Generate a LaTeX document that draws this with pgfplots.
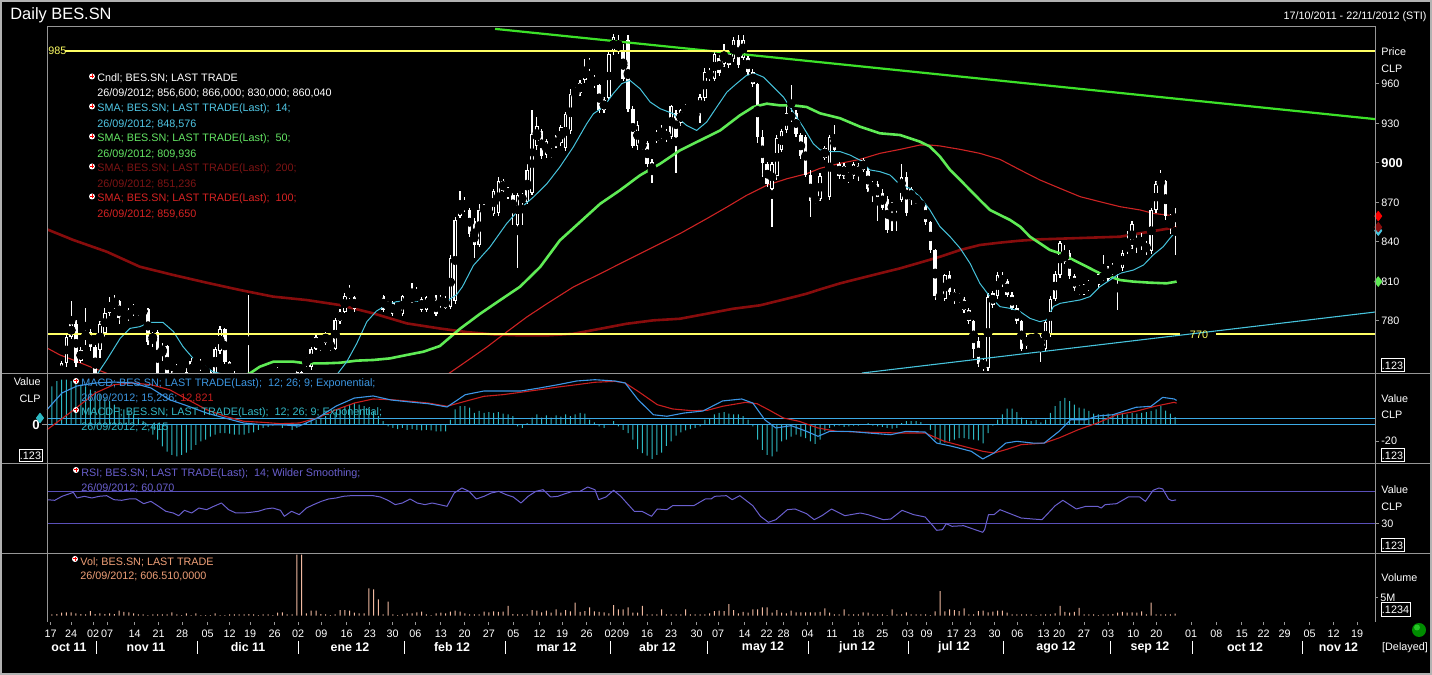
\documentclass[border=0pt]{standalone}
\usepackage{pgfplots}
\pgfplotsset{compat=1.18}
\usepackage{pgfplotstable}
\usepackage{fontspec}
\setmainfont{Liberation Sans}
\definecolor{fr}{RGB}{150,150,150}
\definecolor{cyL}{RGB}{70,195,220}
\definecolor{grL}{RGB}{95,235,85}
\definecolor{grT}{RGB}{60,225,40}
\definecolor{rdL}{RGB}{205,35,35}
\definecolor{drL}{RGB}{135,12,12}
\definecolor{yl}{RGB}{255,255,100}
\definecolor{mb}{RGB}{60,150,230}
\definecolor{ms}{RGB}{200,30,30}
\definecolor{hc}{RGB}{45,185,195}
\definecolor{zl}{RGB}{60,170,230}
\definecolor{rsi}{RGB}{105,95,205}
\definecolor{rsil}{RGB}{90,80,185}
\definecolor{vc}{RGB}{240,185,160}
\definecolor{cyT}{RGB}{80,200,230}
\definecolor{grX}{RGB}{100,230,100}
\definecolor{drT}{RGB}{125,20,20}
\definecolor{rdT}{RGB}{215,35,35}
\definecolor{mT}{RGB}{60,150,225}
\definecolor{mfT}{RGB}{50,185,200}
\definecolor{vT}{RGB}{240,160,120}
\newcommand{\sm}{\fontsize{5.4}{6.2}\selectfont}
\newcommand{\mon}{\fontsize{6.2}{7}\selectfont\bfseries}

\pgfplotstableread{
i o h l c
0 735 738 725 730
1 730 740 722 736
2 738 750 732 748
3 748 771 745 768
4 768 795 766 778
5 778 781 745 748
6 750 760 748 758
7 766 790 762 772
8 772 774 757 760
9 760 762 732 738
10 758 780 752 778
11 771 790 768 786
12 786 798 784 794
13 791 800 789 795
14 795 796 778 782
15 782 784 778 781
16 782 790 780 788
17 786 793 784 791
18 790 791 784 786
19 786 790 785 789
20 789 790 762 764
21 764 772 760 771
22 772 773 730 738
23 755 763 750 761
24 761 762 730 738
25 738 742 728 735
26 741 747 735 745
27 745 746 735 741
28 741 744 732 738
29 738 752 735 750
30 750 751 746 749
31 749 751 742 744
32 744 746 736 741
33 741 743 733 738
34 740 760 736 759
35 757 776 755 774
36 774 775 747 749
37 749 750 735 740
38 740 742 732 737
39 737 740 730 735
40 735 738 728 733
41 736 800 730 738
42 733 736 726 730
43 730 734 724 728
44 728 733 722 731
45 731 735 725 729
46 729 736 726 734
47 738 745 733 744
48 744 745 736 740
49 740 744 736 743
50 743 744 737 741
51 741 742 735 739
52 739 742 735 741
53 747 753 745 751
54 745 760 743 759
55 759 770 758 768
56 764 765 757 759
57 763 772 762 771
58 764 765 757 759
59 759 782 758 781
60 780 789 778 787
61 787 801 786 799
62 799 807 797 803
63 798 799 787 789
64 799 802 797 801
65 799 803 798 802
66 800 806 799 801
67 801 802 798 799
68 799 800 797 798
69 799 800 787 788
70 789 795 788 794
71 794 795 784 785
72 785 789 784 788
73 785 800 784 799
74 797 798 793 794
75 795 809 794 800
76 800 806 796 797
77 797 798 787 788
78 788 799 787 798
79 798 800 794 795
80 795 800 784 785
81 792 800 790 798
82 797 799 789 790
83 791 830 789 828
84 795 859 793 857
85 860 879 858 869
86 870 874 863 865
87 864 866 844 846
88 856 858 828 838
89 838 869 836 864
90 864 869 861 865
91 863 864 860 861
92 861 880 860 879
93 862 889 860 886
94 879 888 878 886
95 880 882 873 875
96 876 877 853 862
97 853 877 820 876
98 876 877 853 870
99 870 899 869 895
100 877 940 876 922
101 913 935 910 928
102 924 926 903 905
103 906 918 904 917
104 909 911 904 906
105 913 921 911 919
106 915 929 913 927
107 911 939 909 937
108 924 956 922 952
109 952 958 950 953
110 953 963 951 961
111 963 979 961 972
112 972 980 970 978
113 965 967 957 959
114 959 960 938 940
115 940 950 938 948
116 949 985 947 983
117 984 998 982 996
118 992 997 983 985
119 984 990 962 964
120 993 997 939 941
121 941 943 911 913
122 913 932 910 929
123 915 917 910 912
124 915 917 897 899
125 901 903 885 892
126 917 925 915 923
127 920 929 918 924
128 924 926 916 918
129 920 944 918 943
130 938 940 892 920
131 930 941 928 940
132 939 945 937 942
133 938 940 934 936
134 936 939 934 938
135 939 952 930 950
136 949 972 947 969
137 970 972 962 964
138 964 984 962 983
139 980 982 966 968
140 975 990 973 985
141 984 986 972 974
142 979 996 977 993
143 993 997 972 974
144 980 997 978 993
145 980 983 967 969
146 969 971 958 960
147 960 961 915 920
148 920 925 889 900
149 899 901 882 884
150 880 901 851 899
151 890 921 887 919
152 910 926 908 924
153 925 945 923 938
154 938 959 931 933
155 938 940 920 922
156 921 923 903 905
157 920 921 889 891
158 891 895 859 871
159 871 876 869 874
160 873 892 871 890
161 904 913 902 911
162 874 921 872 920
163 920 929 908 910
164 899 901 888 890
165 890 900 888 898
166 890 893 885 889
167 890 901 888 899
168 898 900 886 890
169 895 904 893 902
170 894 896 878 880
171 880 886 870 884
172 884 886 856 873
173 877 880 864 866
174 873 875 847 849
175 865 870 848 868
176 868 870 848 866
177 872 899 870 889
178 889 893 860 862
179 872 882 868 880
180 874 876 869 871
181 870 872 865 867
182 867 868 853 855
183 855 856 832 834
184 834 835 796 799
185 799 801 796 798
186 797 816 795 815
187 815 818 800 802
188 802 804 793 795
189 796 801 794 799
190 796 798 786 788
191 788 790 778 780
192 780 781 752 759
193 765 768 745 747
194 750 752 742 744
195 744 801 742 798
196 801 803 790 792
197 799 817 797 815
198 814 817 806 808
199 810 812 798 800
200 800 802 788 790
201 790 792 778 780
202 780 781 757 759
203 761 770 759 768
204 768 769 764 766
205 766 770 765 769
206 769 771 749 759
207 759 781 757 779
208 770 799 768 797
209 797 818 795 816
210 815 841 813 839
211 832 838 823 825
212 832 834 812 814
213 814 816 803 805
214 805 807 800 802
215 802 808 800 806
216 805 811 803 809
217 809 812 805 807
218 807 818 805 816
219 816 830 810 812
220 812 822 810 820
221 820 824 815 818
222 818 822 788 820
223 820 834 818 832
224 833 848 831 839
225 837 856 835 854
226 841 846 832 839
227 839 847 834 841
228 839 841 830 833
229 833 866 831 864
230 864 886 862 884
231 884 895 883 886
232 886 887 857 860
233 860 861 846 854
234 856.6 866 830 860.04
}\candles

\pgfplotstableread{
i v
0 12
1 13.6
2 14.1
3 14.1
4 13.6
5 13.1
6 12.5
7 12
8 11
9 10.5
10 9.5
11 8.4
12 7.4
13 6.3
14 5.3
15 4.8
16 4.3
17 3.2
18 2.2
19 1.1
20 -0.5
21 -3.1
22 -4.7
23 -6.8
24 -8.4
25 -9.4
26 -9.9
27 -9.4
28 -8.7
29 -7.9
30 -6.3
31 -5.2
32 -4.7
33 -3.7
34 -3.1
35 -2.6
36 -2.6
37 -2.8
38 -3.1
39 -3.1
40 -3.1
41 -2.6
42 -2.4
43 -1.6
44 -1.0
45 -0.7
46 -0.3
47 0.5
48 -1
49 0.5
50 -1.6
51 -1
52 0.2
53 0.5
54 1.1
55 1.6
56 2.2
57 2.7
58 3.2
59 3.9
60 4.8
61 5.8
62 6.3
63 6.8
64 6.3
65 5.8
66 5.3
67 4.3
68 2.7
69 1.1
70 -0.5
71 -1
72 -1.4
73 -1.0
74 -1.6
75 -1.4
76 -1.6
77 -1.8
78 -1.6
79 -1.8
80 -2.1
81 -2.1
82 -2.1
83 1.6
84 4.8
85 5.8
86 5.8
87 5.3
88 3.7
89 4.3
90 3.7
91 3.9
92 3.7
93 3.9
94 3.5
95 3.2
96 2.7
97 -0.5
98 -1
99 0.5
100 2.2
101 3.2
102 2.2
103 2.9
104 2.2
105 2.9
106 2.5
107 3.2
108 2.7
109 3.2
110 3.7
111 3.5
112 1.6
113 0.7
114 -0.5
115 -1
116 0.2
117 1.1
118 -0.5
119 -1.6
120 -2.6
121 -4.7
122 -7.6
123 -8.9
124 -9.7
125 -10.7
126 -9.4
127 -8.7
128 -6.6
129 -5.2
130 -3.4
131 -2.4
132 -1.8
133 -1.4
134 -1
135 -0.5
136 1.6
137 1.8
138 3.2
139 3.7
140 3.9
141 3.5
142 3.2
143 3.2
144 2.7
145 1.6
146 -0.5
147 -4.7
148 -7.9
149 -9.4
150 -9.9
151 -8.4
152 -5.2
153 -4.7
154 -3.7
155 -3.1
156 -3.7
157 -4.2
158 -5.2
159 -6.0
160 -4.7
161 -2.1
162 -1
163 -0.5
164 -0.3
165 -0.7
166 -0.5
167 -0.3
168 -0.3
169 0.2
170 0.5
171 -0.3
172 -0.5
173 -0.7
174 -1
175 -1.2
176 -1
177 0.5
178 1.1
179 1.1
180 1.1
181 0.8
182 0
183 -1.6
184 -4.7
185 -5.8
186 -5.6
187 -5.2
188 -4.7
189 -4.2
190 -4.2
191 -4.5
192 -4.7
193 -4.9
194 -5.8
195 -2.6
196 -0.3
197 1.6
198 3.2
199 5
200 5
201 3.9
202 2.2
203 1.5
204 1.1
205 1.5
206 0.7
207 1.6
208 3.7
209 5.8
210 7.4
211 8.4
212 7.4
213 6.3
214 5.3
215 5
216 4.3
217 3.5
218 3.2
219 3.2
220 3.5
221 3.2
222 3.2
223 3.7
224 3.2
225 3.7
226 3.5
227 3.7
228 3.9
229 4.3
230 4.8
231 5.8
232 4.4
233 3.5
234 2.4
}\hist

\pgfplotstableread{
i v
0 0.38
1 0.47
2 0.84
3 0.94
4 0.94
5 0.66
6 0.47
7 0.38
8 1.3
9 0.47
10 0.66
11 0.47
12 0.66
13 0.47
14 1.4
15 1.03
16 0.94
17 0.66
18 0.38
19 0.38
20 0.15
21 0.38
22 0.38
23 0.38
24 0.38
25 0.94
26 0.38
27 0.15
28 0.66
29 0.15
30 0.66
31 0.15
32 0.15
33 0.15
34 0.66
35 0.15
36 0.15
37 0.38
38 0.38
39 0.38
40 0.38
41 0.47
42 0.38
43 0.15
44 0.38
45 0.38
46 0.15
47 0.84
48 0.94
49 0.38
50 0.38
51 17
52 17
53 0.66
54 1.4
55 1.4
56 0.47
57 0.38
58 0.15
59 0.38
60 1.58
61 1.58
62 1.4
63 0.84
64 0.66
65 0.66
66 7.6
67 7.3
68 4.55
69 0.38
70 3.9
71 0.38
72 0.15
73 0.38
74 0.66
75 0.66
76 0.94
77 1.12
78 0.38
79 0.15
80 0.66
81 0.84
82 0.66
83 1.12
84 1.4
85 1.12
86 0.66
87 0.38
88 0.38
89 0.38
90 1.12
91 0.94
92 1.21
93 1.03
94 1.12
95 2.7
96 0.47
97 0.38
98 0.38
99 0.38
100 1.58
101 1.4
102 0.94
103 1.4
104 0.84
105 1.77
106 0.84
107 1.58
108 1.21
109 3.62
110 1.03
111 1.3
112 2.32
113 1.21
114 1.03
115 0.94
116 0.66
117 2.97
118 1.77
119 1.77
120 2.32
121 0.84
122 0.84
123 2.7
124 0.38
125 0.38
126 0.38
127 1.77
128 0.38
129 0.38
130 0.38
131 0.38
132 1.77
133 0.38
134 0.38
135 0.38
136 0.38
137 0.66
138 1.3
139 1.4
140 1.3
141 3.25
142 1.58
143 0.66
144 1.03
145 0.84
146 1.77
147 1.77
148 2.32
149 2.32
150 0.84
151 1.58
152 0.84
153 0.66
154 1.4
155 0.94
156 0.94
157 0.94
158 0.94
159 0.94
160 1.03
161 2.05
162 0.84
163 0.38
164 0.38
165 1.77
166 0.38
167 0.38
168 0.38
169 0.94
170 0.84
171 0.38
172 0.38
173 0.38
174 0.15
175 1.77
176 0.38
177 0.38
178 0.94
179 0.38
180 0.38
181 0.38
182 0.38
183 0.15
184 1.21
185 6.86
186 1.21
187 1.77
188 1.58
189 1.3
190 2.05
191 0.38
192 0.38
193 1.3
194 1.4
195 0.94
196 1.12
197 1.4
198 1.4
199 0.84
200 0.38
201 0.38
202 0.38
203 0.38
204 0.38
205 0.15
206 0.38
207 0.38
208 0.38
209 0.66
210 2.7
211 1.03
212 0.84
213 1.03
214 2.14
215 0.38
216 0.38
217 0.38
218 0.15
219 0.38
220 0.38
221 0.47
222 0.84
223 1.03
224 0.84
225 0.94
226 0.84
227 1.21
228 0.38
229 3.62
230 0.38
231 0.38
232 0.38
233 0.38
234 0.6
}\vol

\begin{document}
\begin{tikzpicture}
\useasboundingbox (0,0) rectangle (716pt,337.5pt);
\fill[black] (0,0) rectangle (716pt,337.5pt);
\pgfplotsset{panel/.style={scale only axis, width=664pt, xmin=-1.0417, xmax=275.625,
  axis line style={draw=none}, xtick=\empty, ytick=\empty, anchor=south west,
  tick align=outside, major tick length=2pt, tick style={fr, line width=0.5pt},
  yticklabel style={font=\sm, text=white, inner sep=0pt},
  every axis plot/.append style={line join=round}}}

% ---------------- main price panel ----------------
\begin{axis}[panel, at={(23.5pt,151pt)}, height=173pt, ymin=740.52, ymax=1003.22,
  ytick={780,810,840,870,900,930,960},
  yticklabels={780,810,840,870,{\fontsize{6.4}{7}\selectfont\bfseries 900},930,960},
  ytick pos=right, yticklabel pos=right, yticklabel style={anchor=west, xshift=1pt}]
% SMA 200
\addplot[drL, line width=1.3pt] coordinates {(-1.04,849.6) (4.44,841.5) (11.4,832.6) (18.3,821.2) (25.3,814.9) (32.2,809.1) (39.2,803.5) (46.1,798.5) (53.1,795.9) (60,792.1) (66.9,785.8) (73.9,778.2) (80.8,774.3) (86.4,771.6) (91.9,769.8) (97.5,769.1) (103.1,769.1) (108.6,770.3) (114.2,774.1) (119.7,777.9) (125.3,780.5) (130.8,781.7) (136.4,785.5) (141.9,789.3) (147.5,791.9) (153.1,796.9) (157.2,800.7) (160,804) (164.2,808.6) (168.3,812.4) (172.5,816.2) (176.7,820) (180.8,824.3) (185,828.8) (189.2,833.9) (193.3,837.7) (197.5,839.5) (201.7,841) (205.8,842) (210,842.5) (214.2,843) (218.3,843.5) (222.5,844) (226.7,846.6) (230.8,849.1) (234.3,851.2)};
% SMA 100
\addplot[rdL, line width=0.55pt] coordinates {(-1.04,759.5) (1.67,754.2) (4.44,750.4) (7.92,745.3) (11.4,740.3) (14,736) (20,733) (40,730) (60,730) (78,734) (82.2,739) (85,746) (90.6,760.2) (94.7,771.6) (98.9,783) (103.1,793.1) (108.6,805.8) (114.2,815.9) (119.7,826) (125.3,836.2) (130.8,846.3) (136.4,857.7) (140.6,866.5) (144.7,875.4) (148.9,883) (153.1,888) (157.2,891.8) (160,895.9) (164.2,899.7) (168.3,902.7) (172.5,907.3) (176.7,910.3) (180.8,913.6) (182.9,913.6) (185,912.9) (189.2,910.3) (193.3,907.3) (197.5,902.7) (201.7,894.7) (205.8,887.1) (210,880.7) (214.2,874.4) (218.3,870.6) (222.5,866.8) (226.7,864.3) (229.4,861.7) (232.2,860.5) (234.3,859.7)};
% candles: wicks
\addplot[only marks, mark=none, error bars/.cd, y dir=both, y explicit, error mark=none,
  error bar style={white, line width=0.55pt}]
  table[x=i, y expr={(\thisrow{h}+\thisrow{l})/2}, y error expr={(\thisrow{h}-\thisrow{l})/2}]{\candles};
% candles: bodies
\addplot[only marks, mark=none, error bars/.cd, y dir=both, y explicit, error mark=none,
  error bar style={white, line width=1.8pt}]
  table[x=i, y expr={(\thisrow{o}+\thisrow{c})/2}, y error expr={max(abs(\thisrow{o}-\thisrow{c})/2,0.5)}]{\candles};
% hollow (up) candles
\addplot[only marks, mark=none, restrict expr to domain={\thisrow{c}-\thisrow{o}}{2.5:2000},
  error bars/.cd, y dir=both, y explicit, error mark=none,
  error bar style={black, line width=0.7pt}]
  table[x=i, y expr={(\thisrow{o}+\thisrow{c})/2}, y error expr={abs(\thisrow{o}-\thisrow{c})/2-0.76}]{\candles};
% SMA 50
\addplot[grL, line width=1.3pt] coordinates {(38,736) (41.25,740.3) (43.3,745.3) (46.1,749.1) (50.3,749.1) (53.1,747.8) (56.5,747.8) (60,748.3) (63.5,749.9) (66.9,750.4) (70.4,751.6) (73.9,754.2) (77.4,756.7) (80.8,761) (85,774.1) (89.2,785.5) (93.3,795.7) (97.5,806) (101.7,821) (105.8,841.2) (110,855.1) (114.2,869) (118.3,879.2) (122.5,890.6) (126.7,899.4) (130.8,909.5) (135,917.1) (139.2,924.7) (143.3,936.1) (146.1,942.5) (148.9,945) (151.7,943.7) (154.4,943.7) (157.2,942.5) (160,937.7) (164.2,933.9) (168.3,927.6) (172.5,922.5) (176.7,921.2) (180.8,916.2) (182.9,912.4) (185,904.8) (187.1,894.7) (189.2,887.1) (191.25,879.5) (193.3,871.9) (195.4,864.3) (197.5,860.5) (199.6,856.7) (201.7,851.6) (203.75,844) (205.8,839) (207.9,833.9) (210,831.4) (212.1,827.6) (214.2,823.8) (216.25,820) (218.3,816.2) (220.4,813.7) (222.5,811.1) (225.3,809.9) (228.75,809.1) (232.2,808.6) (234.3,809.9)};
% SMA 14
\addplot[cyL, line width=0.5pt] coordinates {(5,733) (9.3,739) (11.4,750.4) (14.2,766.8) (16.25,774.4) (18.3,775.7) (20.4,779) (23.1,779) (25.3,772) (27.3,760.5) (29.4,751.6) (31.5,746.6) (33.5,741.5) (36.4,739) (40,735) (45,733) (50,733) (55,735) (59.3,739) (61.4,749) (63.5,763) (65.6,779.5) (67.6,787.6) (69.7,792.1) (71.8,794.7) (73.9,795.2) (76,795) (78.1,794.7) (80.1,794.7) (82.2,795) (84.3,800) (85.5,806) (87.8,822.2) (91.25,836.2) (94.7,853.9) (97.5,865.3) (100.3,874.1) (103.1,884.2) (105.8,896.9) (108.6,912.1) (111.4,929.8) (112.8,937.4) (114.9,942.5) (116.9,952.6) (118.7,960.2) (120.4,962.7) (122.5,956.4) (124.6,946.3) (126.7,941.2) (129.4,937.4) (132.2,928.5) (134.3,924.7) (136.4,931.1) (138.5,942.5) (140.6,953.8) (142.6,960.2) (144.7,966.5) (146.5,967.8) (148.2,965.2) (150.3,957.6) (152.4,950) (154.4,938.7) (156.5,927.3) (158.6,914.6) (160,910) (162.1,908.6) (164.2,908.6) (166.25,906) (168.3,902.2) (170.4,894.7) (172.5,893.4) (174.6,890.8) (176.7,883.3) (178.75,880.7) (180.8,874.4) (182.9,864.3) (185,851.6) (187.1,844) (189.2,835.2) (191.25,823.8) (193.3,808.6) (195.4,798.5) (197.5,790.9) (199.6,789.6) (201.7,787.1) (203.75,782) (205.8,779.5) (207.2,780.8) (208.6,790.9) (210,793.4) (212.1,794.7) (214.2,796) (216.25,798.5) (218.3,806) (220.4,811.1) (222.5,816.2) (225.3,818.7) (227.4,822.5) (229.4,830.1) (231.5,836.4) (232.9,842.8) (234.3,848.6)};
% trend lines and horizontal levels
\addplot[grT, line width=1.1pt] coordinates {(92.3,1001.8) (275.625,933.3)};
\addplot[cyL, line width=0.55pt] coordinates {(168.75,740.5) (275.625,786.8)};
\addplot[yl, line width=1pt] coordinates {(2.7,985) (275.625,985)};
\addplot[yl, line width=1pt] coordinates {(-1.0417,770) (235,770)};
\addplot[yl, line width=1pt] coordinates {(242.5,770) (275.625,770)};
\end{axis}

% markers at the right edge of the price panel
\begin{axis}[panel, at={(23.5pt,151pt)}, height=173pt, ymin=740.52, ymax=1003.22, clip=false]
\addplot[only marks, mark=diamond*, mark size=2.4pt, color=grL] coordinates {(276.3,809.94)};
\addplot[only marks, mark=diamond*, mark size=2.4pt, color=cyL] coordinates {(276.3,848.58)};
\addplot[only marks, mark=diamond*, mark size=2.4pt, color=drL] coordinates {(276.3,851.24)};
\addplot[only marks, mark=diamond*, mark size=2.4pt, color=red] coordinates {(276.3,859.65)};
\end{axis}

% ---------------- MACD histogram ----------------
\begin{axis}[panel, at={(23.5pt,106pt)}, height=45pt, ymin=-11.97, ymax=16.16,
  ytick={0}, yticklabels={\fontsize{6.6}{7}\selectfont\bfseries 0}, ytick pos=left, yticklabel pos=left,
  major tick length=2.5pt, yticklabel style={anchor=east, xshift=-1pt}]
\addplot[ybar, bar width=0.5pt, fill=hc, draw=none] table[x=i, y=v]{\hist};
\addplot[zl, line width=0.5pt] coordinates {(-1.0417,0) (275.625,0)};
\end{axis}

% ---------------- MACD lines ----------------
\begin{axis}[panel, at={(23.5pt,106pt)}, height=45pt, ymin=-38.79, ymax=38.79, clip=false,
  ytick={-20}, yticklabels={-20}, ytick pos=right, yticklabel pos=right,
  yticklabel style={anchor=west, xshift=1pt}]
\addplot[zl, line width=0.5pt] coordinates {(-1.0417,0) (275.625,0)};
\addplot[ms, line width=0.55pt] coordinates {(-1.04,-10.1) (3.67,4.3) (9.06,21.6) (12.9,28.7) (16.8,30.2) (20.6,28.7) (24.5,24.4) (28.3,15.8) (32.2,7.2) (36,1.5) (39.9,-2.8) (43.75,-3.7) (47.6,-4.9) (51.5,-4.3) (55.3,0) (59.2,7.2) (63,12.9) (66.9,16.4) (70.7,15.8) (74.6,14.4) (78.4,12.9) (82.3,10.1) (86.1,14.4) (90,18.7) (93.9,20.1) (97.7,22.2) (101.6,24.4) (105.4,26.7) (109.3,28.7) (113.1,30.8) (117.3,31.6) (119.4,30.2) (122.1,23.0) (126.1,11.5) (129.3,7.8) (133.3,6.3) (136.5,6.6) (139.7,10.1) (144.5,13.5) (146.9,12.3) (149.25,7.2) (152.4,0) (155.6,-2.8) (159.6,-8.6) (163.5,-11.5) (170,-12.3) (176.4,-12.9) (181.9,-12.9) (185.9,-20.1) (189.9,-24.4) (193.9,-28.7) (196.25,-30.2) (198.7,-27.3) (201.9,-23.0) (206.7,-21.6) (209.8,-17.2) (213.8,-10.1) (217.8,-4.3) (221.8,2.8) (225.8,5.8) (229.8,10.1) (233.75,13.5) (234.3,12.8)};
\addplot[mb, line width=0.55pt] coordinates {(-1.04,7.2) (2.08,21.6) (5.21,27.6) (9.06,30.2) (12.9,31.0) (16.8,30.2) (20.6,25.9) (24.5,15.8) (28.3,10.3) (32.2,4.3) (36,0) (39.9,-4.3) (43.75,-5.8) (47.6,-5.8) (51.5,-6.9) (55.3,0) (59.2,10.3) (63,17.2) (66.9,19.0) (70.7,15.5) (74.6,13.8) (78.4,12.3) (82.3,9.5) (86.1,20.1) (90,23.3) (93.9,23.3) (97.7,23.3) (101.6,25.9) (105.4,28.7) (109.3,31.9) (113.1,33.0) (117.3,31.9) (119.4,30.2) (122.1,15.8) (125.3,2.8) (128.1,1.5) (131.7,4.3) (135.6,6.0) (139.7,14.7) (143.7,16.4) (146,12.9) (148.5,-1.5) (150.8,-8.6) (154,-6.6) (157.2,-11.5) (159.6,-15.8) (162,-11.5) (166,-11.5) (170,-12.9) (174.75,-14.4) (177.9,-11.5) (181.9,-12.1) (184.3,-21.6) (187.5,-24.4) (191.5,-28.7) (193.9,-35.3) (196.25,-30.2) (198.7,-21.6) (201,-20.1) (204.3,-21.6) (206.7,-21.6) (209.8,-11.5) (212.2,-1.5) (215.4,-1.5) (217.8,1.7) (221,2.8) (225.8,9.2) (228.96,10.1) (231.4,17.8) (233.75,16.4) (234.3,15.2)};
\addplot[only marks, mark=diamond*, mark size=2.4pt, color=hc] coordinates {(-2.5,0)};
\end{axis}

% ---------------- RSI ----------------
\begin{axis}[panel, at={(23.5pt,61pt)}, height=45pt, ymin=-6.25, ymax=106.25,
  ytick={30}, yticklabels={30}, ytick pos=right, yticklabel pos=right,
  yticklabel style={anchor=west, xshift=1pt}]
\addplot[rsil, line width=0.5pt] coordinates {(-1.0417,30) (275.625,30)};
\addplot[rsil, line width=0.5pt] coordinates {(-1.0417,70) (275.625,70)};
\addplot[rsi, line width=0.5pt] coordinates {(-1.04,60.4) (0.58,59.6) (2.08,64.6) (3.67,67.9) (4.44,69.6) (5.21,62.5) (6.75,64.6) (8.29,62.5) (9.83,64.6) (11.4,65.4) (12.9,60.4) (14.5,59.6) (16,61.25) (17.5,61.25) (19.1,55.4) (20.6,58.3) (22.2,52.1) (23.7,45.9) (25.25,43.75) (26.4,40.4) (27.6,47.1) (29.1,43.75) (30.6,50) (32.2,47.9) (33.7,52.1) (35.3,56.25) (36.8,47.9) (38.3,43.75) (39.9,43.75) (41.4,44.6) (43,45.9) (44.5,48.75) (46,50) (47.6,47.1) (48.4,39.6) (49.9,45.9) (51.5,41.7) (53,50) (54.5,54.2) (56.1,58.3) (57.6,61.25) (59.2,62.5) (60.7,64.6) (62.25,65.4) (63.8,65.4) (65.3,65.4) (66.9,65.4) (68.4,63.75) (70,59.6) (71.5,54.2) (73,56.25) (74.6,61.25) (76.1,56.25) (77.7,54.2) (79.2,56.25) (80.75,54.2) (82.3,52.1) (83.8,68.75) (85.4,75) (86.9,70.8) (88.4,61.25) (90,64.6) (91.5,68.75) (93.1,70.8) (94.6,66.7) (96.1,63.75) (97.7,56.25) (99.2,64.6) (100.8,70.8) (102.3,72.9) (103.9,63.75) (105.4,64.6) (106.9,67.9) (108.5,70.8) (110,70.8) (111.6,76.25) (113.1,72.9) (113.9,60.4) (115.4,63.75) (117,72.1) (118.5,64.6) (121.3,45.9) (122.9,45.9) (124.9,39.6) (126.1,48.75) (128.1,47.9) (129.3,52.9) (133.7,52.9) (136.1,61.25) (137.3,61.25) (138.1,64.6) (140.5,65.4) (141.7,60.4) (143.3,65.4) (146,52.9) (147.6,39.6) (149.25,32.1) (150.8,35.4) (153.2,47.9) (154.8,48.75) (157.2,42.9) (158.8,35.4) (160.4,40.4) (162.4,48.75) (165.2,40.4) (168.4,43.75) (170,41.7) (173.2,35.4) (174.75,36.25) (177.1,47.1) (179.5,41.7) (181.9,38.75) (183.5,27.9) (184.3,22.1) (185.5,22.9) (186.3,30.4) (187.5,27.1) (189.9,27.9) (193.9,19.6) (194.3,22.9) (195.1,41.7) (196.25,41.7) (197.5,47.9) (201.9,37.5) (204.3,36.25) (206.25,35.4) (209,52.9) (210.6,59.6) (213.4,48.75) (215.4,52.1) (217.8,52.1) (218.6,50) (219.4,54.2) (221.8,55.4) (224.2,63.75) (226.6,63.75) (227.8,58.3) (229.4,72.1) (230.6,75) (231.4,73.75) (232.6,61.25) (233.3,59.2) (234.2,60.1)};
\end{axis}

% ---------------- Volume ----------------
\begin{axis}[panel, at={(23.5pt,26.5pt)}, height=34.5pt, ymin=-1.75, ymax=17.42,
  ytick={5}, yticklabels={5M}, ytick pos=right, yticklabel pos=right,
  yticklabel style={anchor=west, xshift=1pt},
  xtick={-0.31,4.0,8.58,11.46,17.2,22.2,27.1,32.4,37.0,41.3,46.4,51.3,56.1,61.4,66.2,70.96,75.7,81.0,85.96,91.0,96.1,101.6,106.3,111.4,116.4,119,124,129,134.3,138.8,144.3,148.9,152.4,157.4,162.5,168,173,178.3,182.2,187.7,191.3,196.4,201.1,206.6,209.8,215,220,225.3,230.1,237.3,242.6,247.9,252.4,256.8,262,267,271.9},
  xticklabels={17,24,02,07,14,21,28,05,12,19,26,02,09,16,23,30,06,13,20,27,05,12,19,26,02,09,16,23,30,07,14,22,28,04,11,18,25,03,09,17,23,30,06,13,20,27,03,10,20,01,08,15,22,29,05,12,19},
  xtick pos=bottom, major tick length=1.5pt,
  xticklabel style={font=\sm, text=white, inner sep=0pt, anchor=north, yshift=-2.2pt}]
\addplot[ybar, bar width=0.5pt, fill=vc, draw=none] table[x=i, y=v]{\vol};
\end{axis}

% ---------------- frame, labels and texts (pixel coordinates) ----------------
\begin{scope}[x=0.5pt, y=-0.5pt, shift={(0,337.5pt)}]
\draw[gray!60!white, line width=1pt] (1,1) rectangle (1431,674);
\draw[fr, line width=0.5pt] (47,622) -- (47,27) -- (1375,27) -- (1375,622);
\draw[fr, line width=0.5pt] (2,373.5) -- (1430,373.5) (2,463.5) -- (1430,463.5) (2,553.5) -- (1430,553.5);

\tikzset{lbl/.style={anchor=west, inner sep=0pt, font=\sm}}
\newcommand{\icon}[2]{\fill[white] (#1,#2) circle (3); \draw[red, line width=0.5pt] (#1-2,#2) -- (#1+2,#2) (#1,#2-2) -- (#1,#2+2);}

\node[anchor=west, inner sep=0pt, text=white, font=\fontsize{8.2}{9}\selectfont] at (10,15) {Daily BES.SN};
\node[anchor=east, inner sep=0pt, text=white, font=\sm] at (1427,17) {17/10/2011 - 22/11/2012 (STI)};

% main legend
\icon{92}{76.5}
\node[lbl, text=white] at (97,78.5) {Cndl; BES.SN; LAST TRADE};
\node[lbl, text=white] at (97,93.5) {26/09/2012; 856,600; 866,000; 830,000; 860,040};
\icon{92}{106.5}
\node[lbl, text=cyT] at (97,109) {SMA; BES.SN; LAST TRADE(Last);~ 14;};
\node[lbl, text=cyT] at (97,124) {26/09/2012; 848,576};
\icon{92}{136.5}
\node[lbl, text=grX] at (97,139) {SMA; BES.SN; LAST TRADE(Last);~ 50;};
\node[lbl, text=grX] at (97,154) {26/09/2012; 809,936};
\icon{92}{166.5}
\node[lbl, text=drT] at (97,169) {SMA; BES.SN; LAST TRADE(Last);~ 200;};
\node[lbl, text=drT] at (97,184) {26/09/2012; 851,236};
\icon{92}{196.5}
\node[lbl, text=rdT] at (97,199) {SMA; BES.SN; LAST TRADE(Last);~ 100;};
\node[lbl, text=rdT] at (97,214) {26/09/2012; 859,650};

\node[lbl, text=yl] at (48,51) {985};
\node[inner sep=0pt, text=yl, font=\sm] at (1199,335) {770};

% MACD legend
\icon{76}{381}
\node[lbl, text=mT] at (81,383.5) {MACD; BES.SN; LAST TRADE(Last);~ 12; 26; 9; Exponential;};
\node[lbl, text=mT] at (81,398) {26/09/2012; 15,236; \textcolor{ms}{12,821}};
\icon{76}{410}
\node[lbl, text=mfT] at (81,413) {MACDF; BES.SN; LAST TRADE(Last);~ 12; 26; 9; Exponential;};
\node[lbl, text=mfT] at (81,427.5) {26/09/2012; 2,415};

% RSI legend
\icon{76}{470}
\node[lbl, text=rsi] at (81,473.5) {RSI; BES.SN; LAST TRADE(Last);~ 14; Wilder Smoothing;};
\node[lbl, text=rsi] at (81,488) {26/09/2012; 60,070};

% Volume legend
\icon{75}{559}
\node[lbl, text=vT] at (80,562) {Vol; BES.SN; LAST TRADE};
\node[lbl, text=vT] at (80,576.5) {26/09/2012; 606.510,0000};

% right labels
\node[lbl, text=white] at (1381,51.5) {Price};
\node[lbl, text=white] at (1381,68.5) {CLP};
\draw[white, line width=0.5pt] (1381,359) rectangle (1404,372);
\node[inner sep=0pt, text=white, font=\sm] at (1392.5,365.5) {.123};

\node[lbl, text=white] at (1381,398.5) {Value};
\node[lbl, text=white] at (1381,414.5) {CLP};
\draw[white, line width=0.5pt] (1381,449) rectangle (1404,462);
\node[inner sep=0pt, text=white, font=\sm] at (1392.5,455.5) {.123};

\node[lbl, text=white] at (1381,489.5) {Value};
\node[lbl, text=white] at (1381,506.5) {CLP};
\draw[white, line width=0.5pt] (1381,539) rectangle (1404,552);
\node[inner sep=0pt, text=white, font=\sm] at (1392.5,545.5) {.123};

\node[lbl, text=white] at (1381,577.5) {Volume};
\draw[white, line width=0.5pt] (1381,603) rectangle (1410,617);
\node[inner sep=0pt, text=white, font=\sm] at (1395.5,610) {.1234};

% left labels of MACD panel
\node[anchor=east, inner sep=0pt, text=white, font=\sm] at (41,381.5) {Value};
\node[anchor=east, inner sep=0pt, text=white, font=\sm] at (41,398.5) {CLP};
\draw[white, line width=0.5pt] (19,450) rectangle (42,462);
\node[inner sep=0pt, text=white, font=\sm] at (30.5,456) {.123};

% months
\foreach \xx/\tt in {69/oct 11,146/nov 11,248/dic 11,350/ene 12,452/feb 12,556.5/mar 12,657.5/abr 12,763/may 12,857/jun 12,954/jul 12,1056/ago 12,1150/sep 12,1245/oct 12,1338.5/nov 12}
  {\node[inner sep=0pt, text=white, font=\mon] at (\xx,647.5) {\tt};}
\foreach \xx in {96.4,197.4,298.4,404,505,610.7,707,808,908,1003,1110,1192,1302}
  {\draw[white, line width=0.5pt] (\xx,641) -- (\xx,654);}

\node[inner sep=0pt, text=white, font=\sm] at (1405,647.5) {[Delayed]};
\fill[green!55!black] (1419,630) circle (7);
\fill[green!70!white, opacity=0.5] (1417,627.5) circle (3);
\end{scope}
\end{tikzpicture}
\end{document}
